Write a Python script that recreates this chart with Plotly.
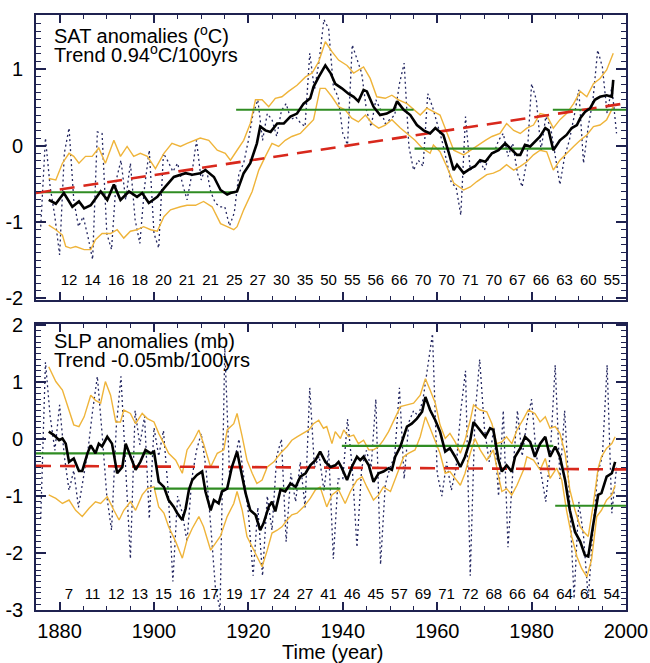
import plotly.graph_objects as go

# ---------------------------------------------------------------- data
YEARS = list(range(1876, 1999))

# annual surface air temperature anomalies (deg C)
sat_annual = [
    -1.06, 0.10, -0.54, -0.93, -1.43, -0.10, 0.23, -0.71, -1.06, -0.93,
    -1.19, -1.49, 0.18, 0.16, -1.15, -1.36, -0.45, -0.19, -0.71, -0.23,
    -0.97, -1.28, -0.54, -0.06, -1.15, -1.34, -0.10, -0.21, -0.34, -0.23,
    -0.49, -0.71, -0.38, 0.07, -0.45, -0.27, -0.60, -0.75, -0.80, -0.80,
    -1.05, -0.88, -0.36, -0.23, 0.07, 0.42, 0.60, 0.07, 0.42, 0.34,
    0.12, 0.46, 0.55, 0.34, 0.38, 0.30, 0.25, 1.21, 0.73, 1.12,
    1.65, 1.53, 0.77, 0.64, 0.16, 0.01, 1.32, 1.12, 0.95, 0.47,
    0.25, 0.60, 0.47, 0.29, 0.34, 0.40, 0.81, 1.08, -0.01, -0.32,
    -0.19, -0.27, 0.68, 0.51, 0.29, 0.07, -0.20, -0.49, -0.54, -0.91,
    0.38, -0.32, -0.27, -0.19, -0.32, -0.14, -0.10, 0.07, 0.16, -0.14,
    0.03, -0.36, -0.54, -0.19, 0.81, 0.60, -0.06, 0.38, 0.25, -0.14,
    -0.51, -0.14, 0.07, 0.38, 0.73, -0.23, 0.25, 0.60, 1.25, 1.03,
    0.42, 0.77, 0.16,
]

# running mean and its upper / lower envelope
sat_mean_years = [
    1877.7, 1879.2, 1880.9, 1882.7, 1884.1, 1885.2, 1886.6, 1888.7, 1890.1, 1891.5,
    1892.9, 1894.7, 1896.4, 1897.5, 1898.9, 1900.7, 1902.1, 1904.2, 1906.7, 1908.1,
    1909.8, 1910.9, 1912.7, 1914.1, 1915.5, 1916.2, 1917.6, 1919.0, 1920.4, 1921.8,
    1922.5, 1923.6, 1924.7, 1926.1, 1927.5, 1928.9, 1930.3, 1931.7, 1933.1, 1933.8,
    1934.9, 1936.3, 1937.4, 1938.4, 1939.8, 1941.2, 1942.3, 1943.3, 1944.4, 1945.1,
    1946.5, 1947.9, 1949.3, 1950.8, 1951.5, 1952.9, 1954.3, 1955.7, 1957.1, 1958.5,
    1959.6, 1961.3, 1962.4, 1963.5, 1964.2, 1965.6, 1967.0, 1968.0, 1969.1, 1970.2,
    1971.6, 1973.0, 1974.4, 1975.4, 1976.9, 1977.6, 1978.6, 1979.7, 1980.7, 1981.8,
    1982.9, 1983.6, 1984.6, 1986.0, 1987.4, 1988.5, 1989.6, 1990.3, 1991.3, 1992.4,
    1993.4, 1994.5, 1995.9, 1997.0, 1997.3,
]
sat_mean = [
    -0.71, -0.76, -0.62, -0.80, -0.73, -0.82, -0.78, -0.60, -0.71, -0.51,
    -0.71, -0.60, -0.67, -0.62, -0.75, -0.67, -0.56, -0.41, -0.36, -0.38,
    -0.36, -0.32, -0.41, -0.58, -0.64, -0.62, -0.60, -0.36, -0.23, 0.03,
    0.25, 0.20, 0.18, 0.29, 0.29, 0.38, 0.42, 0.55, 0.62, 0.77,
    0.90, 1.05, 0.95, 0.81, 0.75, 0.68, 0.64, 0.58, 0.73, 0.71,
    0.51, 0.40, 0.42, 0.47, 0.58, 0.47, 0.40, 0.27, 0.20, 0.16,
    0.23, 0.14, -0.08, -0.32, -0.25, -0.36, -0.30, -0.27, -0.19, -0.21,
    -0.10, -0.06, 0.03, -0.03, -0.12, -0.12, 0.01, -0.01, 0.05, 0.12,
    0.23, 0.20, -0.06, 0.07, 0.14, 0.23, 0.27, 0.36, 0.44, 0.49,
    0.60, 0.64, 0.66, 0.64, 0.86,
]
sat_upper_years = [
    1877.7, 1879.2, 1880.6, 1882.0, 1883.0, 1884.1, 1885.5, 1886.9, 1888.3, 1889.7,
    1891.5, 1892.9, 1894.3, 1895.7, 1897.1, 1898.6, 1900.3, 1902.1, 1903.8, 1905.6,
    1907.0, 1909.8, 1911.6, 1913.4, 1915.1, 1916.2, 1917.6, 1919.0, 1920.4, 1921.5,
    1922.9, 1924.3, 1925.7, 1927.1, 1928.5, 1930.3, 1932.1, 1933.5, 1934.9, 1936.3,
    1937.7, 1939.1, 1940.9, 1942.3, 1944.4, 1945.8, 1947.2, 1949.0, 1950.4, 1951.8,
    1953.6, 1955.0, 1956.4, 1957.8, 1959.2, 1960.6, 1962.0, 1963.5, 1965.6, 1967.0,
    1968.4, 1970.2, 1971.6, 1973.3, 1974.7, 1976.2, 1977.6, 1979.0, 1980.4, 1981.8,
    1983.2, 1984.6, 1986.0, 1987.4, 1988.9, 1990.3, 1991.7, 1993.1, 1994.5, 1995.9,
    1997.3,
]
sat_upper = [
    -0.43, -0.45, -0.23, -0.10, -0.14, -0.23, -0.14, -0.14, -0.03, -0.23,
    0.07, -0.14, -0.01, -0.14, -0.10, -0.14, -0.30, -0.10, 0.03, -0.01,
    0.03, 0.10, 0.07, -0.06, -0.10, -0.19, -0.06, 0.07, 0.29, 0.60,
    0.60, 0.51, 0.62, 0.64, 0.71, 0.79, 0.90, 0.95, 1.10, 1.36,
    1.23, 1.12, 1.05, 0.95, 1.03, 0.88, 0.64, 0.62, 0.66, 0.60,
    0.55, 0.47, 0.40, 0.49, 0.44, 0.40, 0.18, -0.06, -0.12, -0.06,
    -0.01, 0.07, 0.12, 0.16, 0.29, 0.20, 0.16, 0.23, 0.27, 0.42,
    0.40, 0.23, 0.34, 0.42, 0.55, 0.71, 0.64, 0.81, 0.88, 0.99,
    1.21,
]
sat_lower_years = [
    1877.7, 1879.2, 1880.6, 1881.3, 1882.3, 1883.4, 1885.2, 1886.6, 1887.6, 1889.0,
    1890.8, 1892.2, 1893.6, 1895.0, 1896.4, 1897.8, 1899.3, 1900.7, 1902.1, 1903.5,
    1905.6, 1907.0, 1908.8, 1910.5, 1912.3, 1914.1, 1915.5, 1916.9, 1917.6, 1919.0,
    1920.8, 1922.2, 1923.6, 1925.0, 1926.4, 1927.8, 1929.2, 1931.0, 1932.4, 1933.8,
    1935.2, 1936.3, 1937.7, 1939.1, 1940.5, 1941.9, 1943.3, 1944.8, 1946.2, 1947.6,
    1949.0, 1950.4, 1952.2, 1953.6, 1955.3, 1956.8, 1958.5, 1959.2, 1960.6, 1962.0,
    1963.5, 1965.6, 1967.0, 1968.4, 1970.5, 1971.9, 1973.3, 1974.7, 1976.2, 1977.6,
    1979.0, 1980.4, 1981.8, 1983.2, 1984.6, 1986.0, 1987.4, 1988.9, 1990.3, 1991.7,
    1993.1, 1994.5, 1995.9, 1997.3,
]
sat_lower = [
    -1.04, -1.10, -1.17, -1.32, -1.34, -1.32, -1.36, -1.36, -1.23, -1.15,
    -1.15, -1.10, -1.21, -1.12, -1.10, -1.06, -1.10, -1.12, -0.93, -0.84,
    -0.80, -0.78, -0.78, -0.73, -0.80, -1.02, -1.06, -1.10, -1.06, -0.84,
    -0.60, -0.32, -0.14, 0.03, -0.01, 0.07, 0.12, 0.16, 0.25, 0.34,
    0.75, 0.75, 0.64, 0.51, 0.47, 0.36, 0.31, 0.40, 0.29, 0.23,
    0.27, 0.34, 0.23, 0.16, 0.07, -0.03, -0.10, 0.01, -0.08, -0.27,
    -0.49, -0.58, -0.54, -0.47, -0.38, -0.36, -0.32, -0.25, -0.32, -0.27,
    -0.21, -0.12, -0.06, -0.08, -0.32, -0.19, -0.10, -0.01, 0.07, 0.14,
    0.25, 0.27, 0.34, 0.51,
]

# regime means (start year, end year, mean)
sat_regime_start = [1875.0, 1917.4, 1955.2, 1984.5]
sat_regime_end = [1917.2, 1955.0, 1984.3, 2000.0]
sat_regime_mean = [-0.61, 0.47, -0.04, 0.47]

# linear trend
sat_trend_per_century = 0.94
sat_trend_at_1875 = -0.62

# number of stations in each 5-year block
sat_counts = [12, 14, 16, 18, 20, 21, 21, 25, 27, 30, 35, 50,
              55, 56, 66, 70, 70, 71, 70, 67, 66, 63, 60, 55]

# annual sea level pressure anomalies (mb)
slp_annual = [
    -1.40, 1.35, 0.40, -0.20, 0.60, -0.30, -0.90, -0.55, -1.20, -0.70,
    -0.20, 0.50, 1.10, 0.10, -1.00, -1.60, 0.20, 1.10, -0.60, -2.10,
    0.50, -0.10, 0.40, -1.40, 0.20, -0.30, 0.15, -0.90, -2.50, -1.00,
    -1.30, -1.80, -0.70, -0.20, 0.10, -0.50, -1.50, -2.60, -3.00, 1.60,
    -0.60, -0.40, 0.00, -0.70, -1.30, -2.40, -1.20, -2.40, -1.00, -1.60,
    -0.30, 0.00, -1.80, -0.60, -1.10, -0.40, -1.20, 0.90, -0.50, -0.30,
    -0.90, -0.20, -2.10, -0.70, -0.70, 0.35, -0.50, -1.90, -0.50, -0.20,
    -0.50, 0.70, -2.20, -0.80, -0.50, -0.30, 0.90, -0.70, 0.30, 0.50,
    0.40, 0.70, 1.25, 1.85, -0.60, -1.00, -0.40, -0.90, -0.50, 0.50,
    1.20, -2.40, 0.40, 1.40, 0.20, -0.40, 0.20, -1.00, 0.50, -1.90,
    -0.60, 0.50, -0.30, 0.30, 0.70, -0.30, -0.60, -1.10, -0.20, 1.30,
    -0.70, 0.50, -1.00, -2.80, -1.10, -1.70, -2.80, -1.60, -0.60, -0.30,
    1.30, -1.30, -0.50,
]

slp_mean_years = [
    1877.7, 1878.8, 1879.9, 1880.6, 1881.3, 1882.0, 1883.0, 1884.1, 1884.8, 1885.9,
    1886.6, 1887.6, 1888.3, 1889.0, 1890.1, 1891.1, 1892.2, 1893.3, 1894.0, 1895.0,
    1896.1, 1897.1, 1898.2, 1899.3, 1900.0, 1901.0, 1902.1, 1903.1, 1904.2, 1904.9,
    1906.0, 1906.7, 1907.4, 1908.1, 1909.1, 1910.2, 1910.9, 1912.0, 1912.7, 1913.7,
    1914.4, 1915.5, 1916.5, 1917.6, 1918.3, 1919.4, 1920.4, 1921.5, 1922.5, 1923.2,
    1924.3, 1925.0, 1925.7, 1926.8, 1927.8, 1928.9, 1930.0, 1931.0, 1932.1, 1933.1,
    1934.2, 1935.2, 1936.3, 1937.4, 1938.4, 1939.1, 1939.8, 1940.9, 1941.9, 1943.0,
    1943.7, 1944.4, 1945.5, 1946.5, 1947.6, 1948.6, 1949.7, 1950.4, 1951.1, 1952.2,
    1953.6, 1954.6, 1955.7, 1956.8, 1957.5, 1958.5, 1959.6, 1960.6, 1961.7, 1962.7,
    1963.8, 1964.9, 1965.9, 1967.0, 1967.7, 1968.7, 1970.2, 1971.2, 1971.9, 1973.0,
    1973.7, 1974.7, 1975.8, 1976.5, 1977.6, 1978.6, 1979.7, 1980.7, 1981.8, 1982.9,
    1983.9, 1985.0, 1986.0, 1987.1, 1988.1, 1989.2, 1990.3, 1991.3, 1992.0, 1993.1,
    1994.1, 1994.8, 1995.9, 1997.0, 1997.7,
]
slp_mean = [
    0.13, 0.07, -0.02, 0.01, -0.08, -0.40, -0.34, -0.56, -0.56, -0.25,
    -0.11, -0.25, -0.08, -0.13, 0.04, -0.08, -0.60, -0.49, -0.08, -0.31,
    -0.54, -0.40, -0.19, -0.25, -0.22, -0.75, -0.84, -1.07, -1.19, -1.30,
    -1.42, -1.22, -0.89, -0.72, -0.63, -0.57, -0.92, -1.25, -1.07, -1.13,
    -0.92, -0.87, -0.49, -0.22, -0.49, -0.95, -1.25, -1.33, -1.60, -1.48,
    -1.19, -1.10, -1.27, -0.89, -0.92, -0.78, -0.84, -0.66, -0.60, -0.46,
    -0.37, -0.22, -0.40, -0.49, -0.46, -0.40, -0.51, -0.72, -0.49, -0.31,
    -0.37, -0.31, -0.46, -0.75, -0.60, -0.57, -0.51, -0.54, -0.31, -0.13,
    0.22, 0.27, 0.36, 0.48, 0.74, 0.51, 0.33, 0.13, -0.22, -0.16,
    -0.31, -0.49, -0.31, -0.02, 0.30, 0.19, 0.04, 0.19, 0.16, -0.37,
    -0.57, -0.46, -0.57, -0.31, -0.16, 0.04, -0.05, -0.31, -0.08, 0.04,
    -0.31, -0.13, -0.31, -0.72, -1.25, -1.63, -1.80, -2.04, -2.06, -1.48,
    -0.98, -0.95, -0.66, -0.60, -0.40,
]
slp_upper_years = [
    1877.7, 1879.2, 1880.6, 1882.0, 1883.0, 1884.1, 1885.2, 1886.6, 1887.6, 1888.7,
    1889.7, 1890.8, 1891.9, 1892.9, 1893.6, 1895.0, 1896.1, 1897.5, 1898.6, 1900.0,
    1901.0, 1902.1, 1903.1, 1904.6, 1906.0, 1907.0, 1908.4, 1909.5, 1910.5, 1912.0,
    1913.4, 1914.8, 1915.5, 1916.9, 1917.6, 1918.7, 1919.7, 1920.8, 1921.8, 1922.9,
    1924.0, 1925.4, 1926.8, 1928.2, 1929.2, 1930.3, 1931.7, 1932.8, 1933.8, 1934.9,
    1935.9, 1936.6, 1937.7, 1938.4, 1939.5, 1940.2, 1941.2, 1942.3, 1943.3, 1944.4,
    1945.5, 1946.5, 1947.6, 1948.6, 1949.7, 1950.8, 1952.2, 1953.6, 1955.0, 1956.4,
    1957.5, 1958.5, 1959.6, 1960.6, 1961.7, 1962.7, 1963.8, 1964.9, 1965.9, 1967.0,
    1967.7, 1969.1, 1970.5, 1971.6, 1972.6, 1973.7, 1974.7, 1975.8, 1976.9, 1978.3,
    1979.3, 1980.7, 1981.8, 1982.9, 1983.9, 1985.0, 1986.0, 1987.1, 1988.1, 1989.2,
    1990.3, 1991.3, 1992.0, 1993.1, 1994.1, 1994.8, 1995.9, 1997.0, 1997.7,
]
slp_upper = [
    1.27, 1.01, 0.86, 0.48, 0.25, 0.22, 0.39, 0.77, 0.68, 0.63,
    1.01, 0.77, 0.30, 0.30, 0.51, 0.45, 0.27, 0.45, 0.36, 0.30,
    0.10, -0.08, -0.25, -0.37, -0.60, -0.19, -0.02, 0.16, -0.08, -0.49,
    -0.25, -0.19, 0.16, 0.27, 0.45, 0.04, -0.37, -0.60, -0.78, -0.72,
    -0.49, -0.40, -0.25, -0.13, -0.02, 0.04, 0.10, 0.16, 0.27, 0.33,
    0.19, 0.22, -0.08, 0.13, 0.01, 0.16, 0.04, 0.07, -0.08, -0.02,
    -0.19, -0.19, -0.13, -0.02, 0.13, 0.33, 0.57, 0.60, 0.63, 0.77,
    1.06, 0.86, 0.63, 0.25, 0.01, 0.10, -0.05, -0.25, -0.02, 0.33,
    0.60, 0.51, 0.48, 0.27, -0.08, -0.05, 0.04, -0.08, 0.16, 0.36,
    0.51, 0.45, 0.30, 0.39, 0.19, 0.22, 0.10, -0.25, -0.89, -1.25,
    -1.54, -1.65, -1.71, -1.13, -0.51, -0.31, -0.16, -0.08, 0.04,
]
slp_lower_years = [
    1877.7, 1879.2, 1880.6, 1882.0, 1883.4, 1884.8, 1886.2, 1887.6, 1888.7, 1890.1,
    1891.5, 1892.6, 1893.6, 1895.0, 1896.1, 1897.5, 1898.6, 1900.0, 1901.0, 1902.1,
    1903.1, 1904.6, 1906.0, 1907.0, 1908.1, 1909.5, 1910.5, 1912.0, 1913.0, 1914.1,
    1915.5, 1916.9, 1917.6, 1918.7, 1919.7, 1921.1, 1922.9, 1924.0, 1925.0, 1926.1,
    1927.1, 1928.2, 1929.2, 1930.3, 1931.7, 1933.1, 1934.2, 1935.2, 1936.6, 1937.7,
    1939.1, 1940.5, 1941.6, 1943.0, 1944.1, 1945.1, 1946.5, 1947.6, 1948.6, 1950.1,
    1951.5, 1952.9, 1953.9, 1955.3, 1956.4, 1957.5, 1958.5, 1959.6, 1960.6, 1961.7,
    1962.7, 1963.8, 1964.9, 1965.9, 1967.0, 1968.0, 1969.1, 1970.5, 1971.9, 1973.0,
    1973.7, 1974.7, 1975.8, 1976.9, 1978.3, 1979.0, 1980.4, 1981.8, 1982.9, 1983.9,
    1985.3, 1986.4, 1987.4, 1988.5, 1989.6, 1990.6, 1991.7, 1992.7, 1993.8, 1994.8,
    1995.9, 1997.0, 1997.7,
]
slp_lower = [
    -0.98, -1.04, -1.13, -1.07, -1.25, -1.36, -1.22, -1.10, -1.13, -1.01,
    -1.25, -1.42, -1.25, -1.10, -1.25, -0.98, -0.87, -0.84, -1.19, -1.30,
    -1.54, -1.80, -2.09, -1.77, -1.57, -1.36, -1.54, -1.95, -1.83, -1.70,
    -1.36, -1.13, -0.92, -1.25, -1.71, -1.95, -2.24, -1.95, -1.65, -1.60,
    -1.54, -1.42, -1.33, -1.30, -1.19, -1.04, -0.89, -0.84, -1.19, -0.98,
    -0.89, -1.13, -0.92, -0.72, -0.66, -0.84, -1.07, -0.98, -0.84, -0.92,
    -0.60, -0.31, -0.25, -0.19, 0.04, 0.39, 0.19, -0.05, -0.25, -0.60,
    -0.57, -0.69, -0.81, -0.60, -0.25, 0.01, -0.19, -0.37, -0.19, -0.66,
    -0.92, -0.87, -0.98, -0.81, -0.54, -0.31, -0.37, -0.54, -0.34, -0.69,
    -0.51, -0.72, -1.25, -1.71, -2.06, -2.27, -2.42, -2.12, -1.36, -1.25,
    -1.07, -0.98, -0.81,
]

slp_regime_start = [1875.0, 1900.0, 1939.8, 1985.0]
slp_regime_end = [1900.0, 1939.5, 1984.6, 2000.0]
slp_regime_mean = [-0.25, -0.87, -0.12, -1.17]

slp_trend_per_century = -0.05
slp_trend_at_1875 = -0.47

slp_counts = [7, 11, 12, 13, 15, 16, 17, 19, 17, 24, 27, 41,
              46, 45, 57, 69, 71, 72, 68, 66, 64, 64, 61, 54]

COUNT_YEARS = [1882 + 5 * k for k in range(24)]

for xs, ys in [(YEARS, sat_annual), (YEARS, slp_annual),
               (sat_mean_years, sat_mean), (sat_upper_years, sat_upper),
               (sat_lower_years, sat_lower), (slp_mean_years, slp_mean),
               (slp_upper_years, slp_upper), (slp_lower_years, slp_lower)]:
    assert len(xs) == len(ys), (len(xs), len(ys))

# ---------------------------------------------------------------- styles
FRAME = "#1f2250"
DOT_COLOR = "#232660"
ORANGE = "#efb43a"
GREEN = "#2f8c22"
RED = "#d8281c"
FONT = "Liberation Sans, Arial, Helvetica, sans-serif"
X0, X1 = 1875.0, 2000.0

fig = go.Figure()


def add_panel(xa, ya, annual, m_yrs, m_vals, u_yrs, u_vals, l_yrs, l_vals,
              r_start, r_end, r_mean, slope, start, counts, count_level):
    kw = dict(xaxis=xa, yaxis=ya, hoverinfo="skip", showlegend=False)
    fig.add_trace(go.Scatter(x=YEARS, y=annual, mode="lines",
                             line=dict(color=DOT_COLOR, width=1.3, dash="2px,3px"), **kw))
    fig.add_trace(go.Scatter(x=u_yrs, y=u_vals, mode="lines",
                             line=dict(color=ORANGE, width=1.4), **kw))
    fig.add_trace(go.Scatter(x=l_yrs, y=l_vals, mode="lines",
                             line=dict(color=ORANGE, width=1.4), **kw))
    gx, gy = [], []
    for s, e, m in zip(r_start, r_end, r_mean):
        gx += [s, e, None]
        gy += [m, m, None]
    fig.add_trace(go.Scatter(x=gx, y=gy, mode="lines",
                             line=dict(color=GREEN, width=2.2), **kw))
    fig.add_trace(go.Scatter(x=[X0, X1],
                             y=[start, start + slope * (X1 - X0) / 100.0],
                             mode="lines",
                             line=dict(color=RED, width=2.6, dash="15px,9px"), **kw))
    fig.add_trace(go.Scatter(x=m_yrs, y=m_vals, mode="lines",
                             line=dict(color="black", width=2.6), **kw))
    fig.add_trace(go.Scatter(x=COUNT_YEARS, y=[count_level] * len(counts),
                             mode="text", text=[str(c) for c in counts],
                             textfont=dict(family=FONT, size=15, color="black"), **kw))


add_panel("x", "y", sat_annual, sat_mean_years, sat_mean, sat_upper_years, sat_upper,
          sat_lower_years, sat_lower, sat_regime_start, sat_regime_end, sat_regime_mean,
          sat_trend_per_century, sat_trend_at_1875, sat_counts, -1.78)
add_panel("x2", "y2", slp_annual, slp_mean_years, slp_mean, slp_upper_years, slp_upper,
          slp_lower_years, slp_lower, slp_regime_start, slp_regime_end, slp_regime_mean,
          slp_trend_per_century, slp_trend_at_1875, slp_counts, -2.75)

frame = dict(showline=True, linecolor=FRAME, linewidth=1.6, mirror="allticks",
             ticks="inside", tickcolor=FRAME, tickwidth=1.6, showgrid=False,
             zeroline=False)

xticks = dict(tickmode="array", tickvals=[1880, 1900, 1920, 1940, 1960, 1980, 2000],
              ticktext=["1880", "1900", "1920", "1940", "1960", "1980", "2000"],
              ticklen=8,
              minor=dict(tickmode="linear", tick0=1880, dtick=5, ticklen=4,
                         ticks="inside", tickcolor=FRAME, tickwidth=1.4))


def yticks(lo, hi):
    vals = list(range(lo, hi + 1))
    return dict(tickmode="array", tickvals=vals, ticktext=[str(v) for v in vals],
                ticklen=10, ticklabelstandoff=7,
                minor=dict(tickmode="linear", tick0=0, dtick=0.1, ticklen=5,
                           ticks="inside", tickcolor=FRAME, tickwidth=1.4))


fig.update_layout(
    width=650, height=663,
    margin=dict(l=36, r=24, t=15, b=53, autoexpand=False),
    paper_bgcolor="white", plot_bgcolor="white",
    showlegend=False,
    font=dict(family=FONT, size=20, color="black"),
    xaxis=dict(domain=[0, 1], anchor="y", range=[X0, X1], showticklabels=False,
               **frame, **xticks),
    yaxis=dict(domain=[0.521, 1], anchor="x", range=[-2.02, 1.71],
               **frame, **yticks(-2, 1)),
    xaxis2=dict(domain=[0, 1], anchor="y2", range=[X0, X1], ticklabelstandoff=2,
                **frame, **xticks),
    yaxis2=dict(domain=[0, 0.4807], anchor="x2", range=[-3.0, 2.02],
                **frame, **yticks(-3, 2)),
)

# panel titles
titles = [
    ("SAT anomalies (<sup>o</sup>C)", 0.967),
    ("Trend 0.94<sup>o</sup>C/100yrs", 0.936),
    ("SLP anomalies (mb)", 0.452),
    ("Trend -0.05mb/100yrs", 0.421),
]
for text, ypos in titles:
    fig.add_annotation(text=text, xref="paper", yref="paper", x=0.027, y=ypos,
                       xanchor="left", yanchor="middle", showarrow=False,
                       font=dict(family=FONT, size=20, color="black"))

fig.add_annotation(text="Time (year)", xref="paper", yref="paper", x=0.502, y=-0.071,
                   xanchor="center", yanchor="middle", showarrow=False,
                   font=dict(family=FONT, size=20, color="black"))

fig.write_html("out.html")
